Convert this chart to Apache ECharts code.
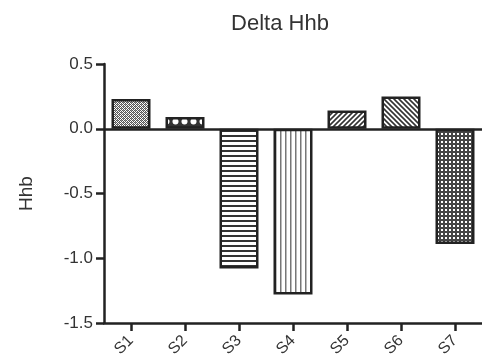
<!DOCTYPE html>
<html>
<head>
<meta charset="utf-8">
<script src="https://cdn.jsdelivr.net/npm/echarts@6/dist/echarts.min.js"></script>
<style>
  html, body { margin: 0; padding: 0; background: #fff; }
  #chart { width: 482px; height: 361px; }
</style>
</head>
<body>
<div id="chart"></div>
<script>
// Delta Hhb per subject
const categories = ['S1', 'S2', 'S3', 'S4', 'S5', 'S6', 'S7'];
const deltaHhb = [0.23, 0.09, -1.08, -1.28, 0.14, 0.25, -0.89];
const yTicks = { min: -1.5, max: 0.5, step: 0.5 };

const INK = '#222';
const FONT = 'Liberation Sans, Arial, sans-serif';

// Small repeating tiles used as hatch fills for the bars
function tile(w, h, draw) {
  const c = document.createElement('canvas');
  c.width = w; c.height = h;
  const g = c.getContext('2d');
  g.fillStyle = '#fff';
  g.fillRect(0, 0, w, h);
  draw(g, w, h);
  return { image: c, repeat: 'repeat' };
}

const fills = [
  // fine stipple
  tile(4, 4, g => {
    g.fillStyle = '#555';
    [[0,0],[2,0],[1,1],[3,1],[0,2],[2,2],[1,3],[3,3]].forEach(p => g.fillRect(p[0], p[1], 1, 1));
    g.fillStyle = '#999';
    g.fillRect(1, 0, 1, 1); g.fillRect(3, 2, 1, 1);
  }),
  // white circles on dark
  tile(9, 9, g => {
    g.fillStyle = '#333';
    g.fillRect(0, 0, 9, 9);
    g.fillStyle = '#fff';
    g.beginPath(); g.arc(4.5, 4.5, 3, 0, Math.PI * 2); g.fill();
  }),
  // horizontal lines
  tile(4, 5, g => { g.fillStyle = '#333'; g.fillRect(0, 0, 4, 2); }),
  // vertical lines
  tile(5, 4, g => { g.fillStyle = '#777'; g.fillRect(0, 0, 1.5, 4); }),
  // forward diagonal
  tile(5, 5, g => {
    g.strokeStyle = '#333'; g.lineWidth = 1.6;
    g.beginPath();
    g.moveTo(-1, 6); g.lineTo(6, -1);
    g.moveTo(-3, 3); g.lineTo(3, -3);
    g.moveTo(2, 8); g.lineTo(8, 2);
    g.stroke();
  }),
  // back diagonal
  tile(5, 5, g => {
    g.strokeStyle = '#333'; g.lineWidth = 1.6;
    g.beginPath();
    g.moveTo(-1, -1); g.lineTo(6, 6);
    g.moveTo(-3, 2); g.lineTo(3, 8);
    g.moveTo(2, -3); g.lineTo(8, 3);
    g.stroke();
  }),
  // dense grid
  tile(4, 4, g => {
    g.fillStyle = '#444';
    g.fillRect(0, 0, 4, 4);
    g.fillStyle = '#fff';
    g.fillRect(1, 1, 2, 2);
  })
];

const chart = echarts.init(document.getElementById('chart'), null, { renderer: 'canvas' });

chart.setOption({
  animation: false,
  backgroundColor: '#fff',
  textStyle: { fontFamily: FONT },
  title: {
    text: 'Delta Hhb',
    left: 275,
    top: 8,
    textAlign: 'center',
    textStyle: { fontSize: 22, fontWeight: 'normal', color: '#333', fontFamily: FONT }
  },
  grid: { left: 104, top: 64, bottom: 38, width: 385, containLabel: false },
  xAxis: {
    type: 'category',
    data: categories,
    boundaryGap: true,
    axisLine: { show: true, onZero: false, lineStyle: { color: INK, width: 2.5 } },
    axisTick: { show: true, alignWithLabel: true, length: 8, lineStyle: { color: INK, width: 2.5 } },
    axisLabel: { rotate: 45, fontSize: 16, color: '#333', margin: 15 }
  },
  yAxis: {
    type: 'value',
    min: yTicks.min,
    max: yTicks.max,
    interval: yTicks.step,
    name: 'Hhb',
    nameLocation: 'middle',
    nameGap: 68,
    nameTextStyle: { fontSize: 19, color: '#333' },
    axisLine: { show: true, lineStyle: { color: INK, width: 2.5 } },
    axisTick: { show: true, length: 8, lineStyle: { color: INK, width: 2.5 } },
    axisLabel: { fontSize: 17, color: '#333', margin: 11, formatter: v => v.toFixed(1) },
    splitLine: { show: false }
  },
  series: [{
    type: 'bar',
    barWidth: 39,
    data: deltaHhb.map((v, i) => ({
      value: v,
      itemStyle: { color: fills[i], borderColor: INK, borderWidth: 2.5 }
    })),
    markLine: {
      silent: true,
      symbol: 'none',
      label: { show: false },
      lineStyle: { color: INK, width: 2.5, type: 'solid' },
      data: [{ yAxis: 0 }]
    }
  }]
});
</script>
</body>
</html>
